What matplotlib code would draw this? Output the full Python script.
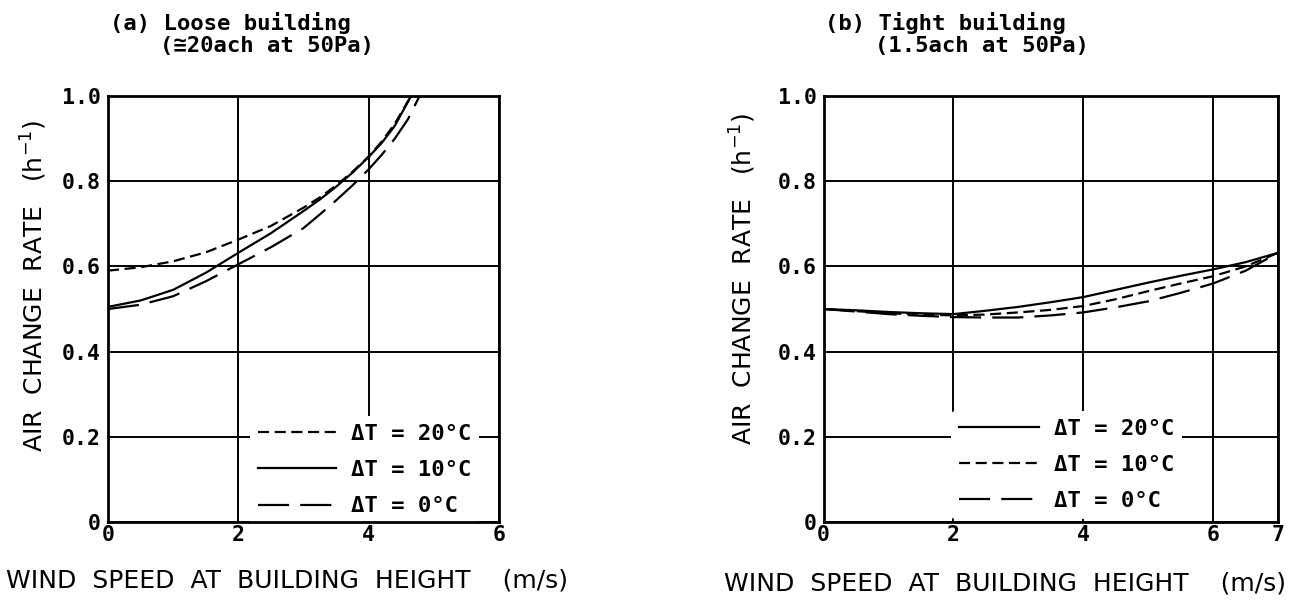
import numpy as np
from matplotlib import pyplot as plt

plt.rcParams["font.family"] = ["DejaVu Sans Mono", "DejaVu Sans"]

# (a) loose building
a_x20 = [0, 0.5, 1, 1.5, 2, 2.5, 3, 3.25, 3.5, 3.75, 4, 4.2, 4.4, 4.65]
a_y20 = [0.59, 0.598, 0.612, 0.633, 0.663, 0.695, 0.738, 0.762, 0.79, 0.822, 0.858, 0.893, 0.935, 1.0]
a_x10 = [0, 0.5, 1, 1.5, 2, 2.5, 3, 3.25, 3.5, 3.75, 4, 4.2, 4.4, 4.65]
a_y10 = [0.505, 0.52, 0.545, 0.585, 0.632, 0.678, 0.73, 0.757, 0.787, 0.82, 0.857, 0.89, 0.93, 1.0]
a_x0 = [0, 0.5, 1, 1.5, 2, 2.5, 3, 3.25, 3.5, 3.75, 4, 4.2, 4.4, 4.6, 4.78]
a_y0 = [0.5, 0.51, 0.53, 0.565, 0.605, 0.645, 0.69, 0.722, 0.755, 0.79, 0.828, 0.862, 0.9, 0.945, 1.0]

# (b) tight building
b_x = [0, 0.5, 1, 1.5, 2, 2.5, 3, 3.5, 4, 4.5, 5, 5.5, 6, 6.5, 7]
b_y20 = [0.5, 0.497, 0.493, 0.49, 0.488, 0.496, 0.505, 0.516, 0.528, 0.545, 0.562, 0.578, 0.593, 0.61, 0.632]
b_y10 = [0.5, 0.495, 0.49, 0.487, 0.485, 0.487, 0.492, 0.498, 0.507, 0.523, 0.542, 0.56, 0.577, 0.6, 0.632]
b_y0 = [0.5, 0.494, 0.488, 0.484, 0.481, 0.48, 0.48, 0.485, 0.492, 0.504, 0.518, 0.538, 0.56, 0.59, 0.632]

y_ticks = [0, 0.2, 0.4, 0.6, 0.8, 1.0]
y_labels = ["0", "0.2", "0.4", "0.6", "0.8", "1.0"]
a_xticks = [0, 2, 4, 6]
b_xticks = [0, 2, 4, 6, 7]

labels = ["\u0394T = 20\u00b0C", "\u0394T = 10\u00b0C", "\u0394T = 0\u00b0C"]
short_dash = (0, (5, 2.5))
long_dash = (0, (14, 5))
LW = 1.6

fig = plt.figure(figsize=(12.95, 6), dpi=100)
ax_a = fig.add_axes([0.0834, 0.13, 0.302, 0.71])
ax_b = fig.add_axes([0.636, 0.13, 0.351, 0.71])


def style(ax, xmax, xticks, ylab_pos):
    ax.set_xlim(0, xmax)
    ax.set_ylim(0, 1.0)
    ax.set_xticks(xticks)
    ax.set_xticklabels([str(t) for t in xticks])
    ax.set_yticks(y_ticks)
    ax.set_yticklabels(y_labels)
    ax.grid(True, color="black", linewidth=1.4)
    ax.tick_params(axis="x", length=0, pad=2)
    ax.tick_params(axis="y", length=0, pad=5)
    for lab in ax.get_xticklabels() + ax.get_yticklabels():
        lab.set_fontweight("bold")
        lab.set_fontsize(15.5)
    for s in ax.spines.values():
        s.set_linewidth(2)
    ax.set_ylabel("AIR  CHANGE  RATE   (h$^{-1}$)", fontsize=18, family="DejaVu Sans")
    ax.yaxis.set_label_coords(*ylab_pos)


def add_legend(ax, anchor, handlelength):
    leg = ax.legend(loc="lower left", bbox_to_anchor=anchor, borderaxespad=0,
                    frameon=True, prop={"size": 16, "weight": "bold"},
                    handlelength=handlelength, handletextpad=0.68,
                    labelspacing=0.73, borderpad=0.35)
    leg.get_frame().set_edgecolor("none")
    leg.get_frame().set_facecolor("white")
    leg.get_frame().set_alpha(1)
    leg.set_zorder(2.3)


style(ax_a, 6, a_xticks, (-0.152, 0.554))
ax_a.plot(a_x20, a_y20, color="black", lw=LW, linestyle=short_dash, label=labels[0])
ax_a.plot(a_x10, a_y10, color="black", lw=LW, linestyle="-", label=labels[1])
ax_a.plot(a_x0, a_y0, color="black", lw=LW, linestyle=long_dash, label=labels[2])
add_legend(ax_a, (0.363, -0.005), 3.5)

style(ax_b, 7, b_xticks, (-0.145, 0.571))
ax_b.plot(b_x, b_y20, color="black", lw=LW, linestyle="-", label=labels[0])
ax_b.plot(b_x, b_y10, color="black", lw=LW, linestyle=short_dash, label=labels[1])
ax_b.plot(b_x, b_y0, color="black", lw=LW, linestyle=long_dash, label=labels[2])
add_legend(ax_b, (0.281, 0.007), 3.6)

xlabel = "WIND  SPEED  AT  BUILDING  HEIGHT    (m/s)"
fig.text(0.2218, 0.033, xlabel, fontsize=18, family="DejaVu Sans", ha="center", va="center")
fig.text(0.776, 0.028, xlabel, fontsize=18, family="DejaVu Sans", ha="center", va="center")

fig.text(0.085, 0.962, "(a) Loose building", fontsize=16, fontweight="bold", va="center")
fig.text(0.1236, 0.924, "(\u224520ach at 50Pa)", fontsize=16, fontweight="bold", va="center")
fig.text(0.637, 0.962, "(b) Tight building", fontsize=16, fontweight="bold", va="center")
fig.text(0.676, 0.924, "(1.5ach at 50Pa)", fontsize=16, fontweight="bold", va="center")

fig.savefig("out.png", dpi=100, facecolor="white")
